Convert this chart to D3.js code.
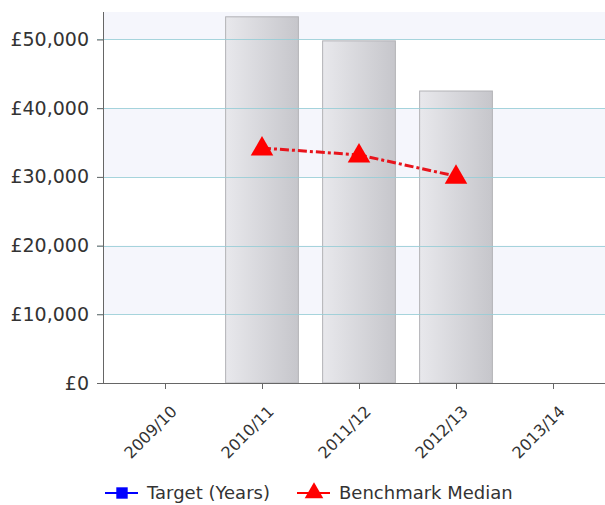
<!DOCTYPE html>
<html>
<head>
<meta charset="utf-8">
<script src="https://cdn.jsdelivr.net/npm/d3@7"></script>
<style>
  body { margin: 0; background: #fff; }
  text { font-family: "DejaVu Sans", Verdana, sans-serif; fill: #333; }
</style>
</head>
<body>
<div id="chart"></div>
<script>
// chart values
const years = ["2009/10", "2010/11", "2011/12", "2012/13", "2013/14"];
const actual = [null, 53300, 49800, 42500, null];
const benchmark = [null, 34200, 33200, 30100, null];
const target = [null, null, null, null, null];
const yTicks = [0, 10000, 20000, 30000, 40000, 50000];
const legendNames = ["Target (Years)", "Benchmark Median"];

const W = 605, H = 505;
const margin = {top: 12, left: 103, right: 0, bottom: 122};
const plotW = W - margin.left - margin.right,
      plotH = H - margin.top - margin.bottom;

const svg = d3.select("#chart").append("svg")
    .attr("width", W).attr("height", H);

const defs = svg.append("defs");
const grad = defs.append("linearGradient").attr("id", "barGrad");
grad.append("stop").attr("offset", "0%").attr("stop-color", "#e8e8ec");
grad.append("stop").attr("offset", "100%").attr("stop-color", "#c6c6cb");

const g = svg.append("g").attr("transform", `translate(${margin.left},${margin.top})`);

// scales
const y = d3.scaleLinear().domain([0, 54000]).range([plotH, 0]);
const x = d3.scalePoint().domain(years).range([62, 450]);
const barW = x.step() * 0.75;

// alternating bands
const bands = [[10000, 20000], [30000, 40000], [50000, 54000]];
g.selectAll(".band").data(bands).enter().append("rect")
    .attr("x", 0).attr("width", plotW)
    .attr("y", d => y(d[1])).attr("height", d => y(d[0]) - y(d[1]))
    .attr("fill", "#f5f6fc");

// bars
g.selectAll(".bar").data(years.map((c, i) => ({c, v: actual[i]})).filter(d => d.v != null))
  .enter().append("rect")
    .attr("x", d => x(d.c) - barW / 2)
    .attr("width", barW)
    .attr("y", d => y(d.v))
    .attr("height", d => plotH - y(d.v))
    .attr("fill", "url(#barGrad)")
    .attr("stroke", "#b2b2b6").attr("stroke-width", 1);

// gridlines over bars
g.selectAll(".grid").data(yTicks.filter(t => t > 0)).enter().append("line")
    .attr("x1", -6).attr("x2", plotW)
    .attr("y1", d => Math.round(y(d)) + 0.5).attr("y2", d => Math.round(y(d)) + 0.5)
    .attr("stroke", "#96ccd6").attr("stroke-opacity", 0.85);

// y axis
const yAxis = g.append("g")
    .call(d3.axisLeft(y).tickValues(yTicks).tickSize(6).tickPadding(8)
        .tickFormat(d => "£" + d3.format(",")(d)));
yAxis.select(".domain").attr("stroke", "#666").attr("d", `M0.5,0V${plotH}`);
yAxis.selectAll(".tick line").attr("stroke", "#666");
yAxis.selectAll("text").attr("font-size", "19px").attr("fill", "#333");

// x axis
const xAxis = g.append("g").attr("transform", `translate(0,${plotH})`)
    .call(d3.axisBottom(x).tickSize(6).tickPadding(6));
xAxis.select(".domain").attr("stroke", "#666").attr("d", `M0,0.5H${plotW}`);
xAxis.selectAll(".tick line").attr("stroke", "#666");
xAxis.selectAll("text")
    .attr("font-size", "16px").attr("fill", "#333")
    .attr("text-anchor", "end")
    .attr("dy", "0.35em")
    .attr("transform", "translate(0,17) rotate(-45)");

// benchmark line
const pts = years.map((c, i) => ({c, v: benchmark[i]})).filter(d => d.v != null);
g.append("path").datum(pts)
    .attr("fill", "none").attr("stroke", "#e8141c").attr("stroke-width", 3)
    .attr("stroke-dasharray", "9,3,3,3")
    .attr("d", d3.line().x(d => x(d.c)).y(d => y(d.v)));
const tri = d3.symbol().type(d3.symbolTriangle).size(220);
g.selectAll(".mk").data(pts).enter().append("path")
    .attr("d", tri)
    .attr("transform", d => `translate(${x(d.c)},${y(d.v) + 1})`)
    .attr("fill", "#f00");

// legend
const lg = svg.append("g").attr("transform", "translate(105,493)");
const items = [
  {name: legendNames[0], color: "#0000ff", sym: d3.symbolSquare, x: 0},
  {name: legendNames[1], color: "#ff0000", sym: d3.symbolTriangle, x: 192}
];
items.forEach(it => {
  const gi = lg.append("g").attr("transform", `translate(${it.x},0)`);
  gi.append("line").attr("x1", 0).attr("x2", 33).attr("stroke", it.color).attr("stroke-width", 2);
  gi.append("path").attr("d", d3.symbol().type(it.sym).size(it.sym === d3.symbolSquare ? 130 : 150))
    .attr("transform", "translate(17,0)").attr("fill", it.color);
  gi.append("text").attr("x", 42).attr("dy", "0.35em").attr("font-size", "18px").text(it.name);
});
</script>
</body>
</html>
